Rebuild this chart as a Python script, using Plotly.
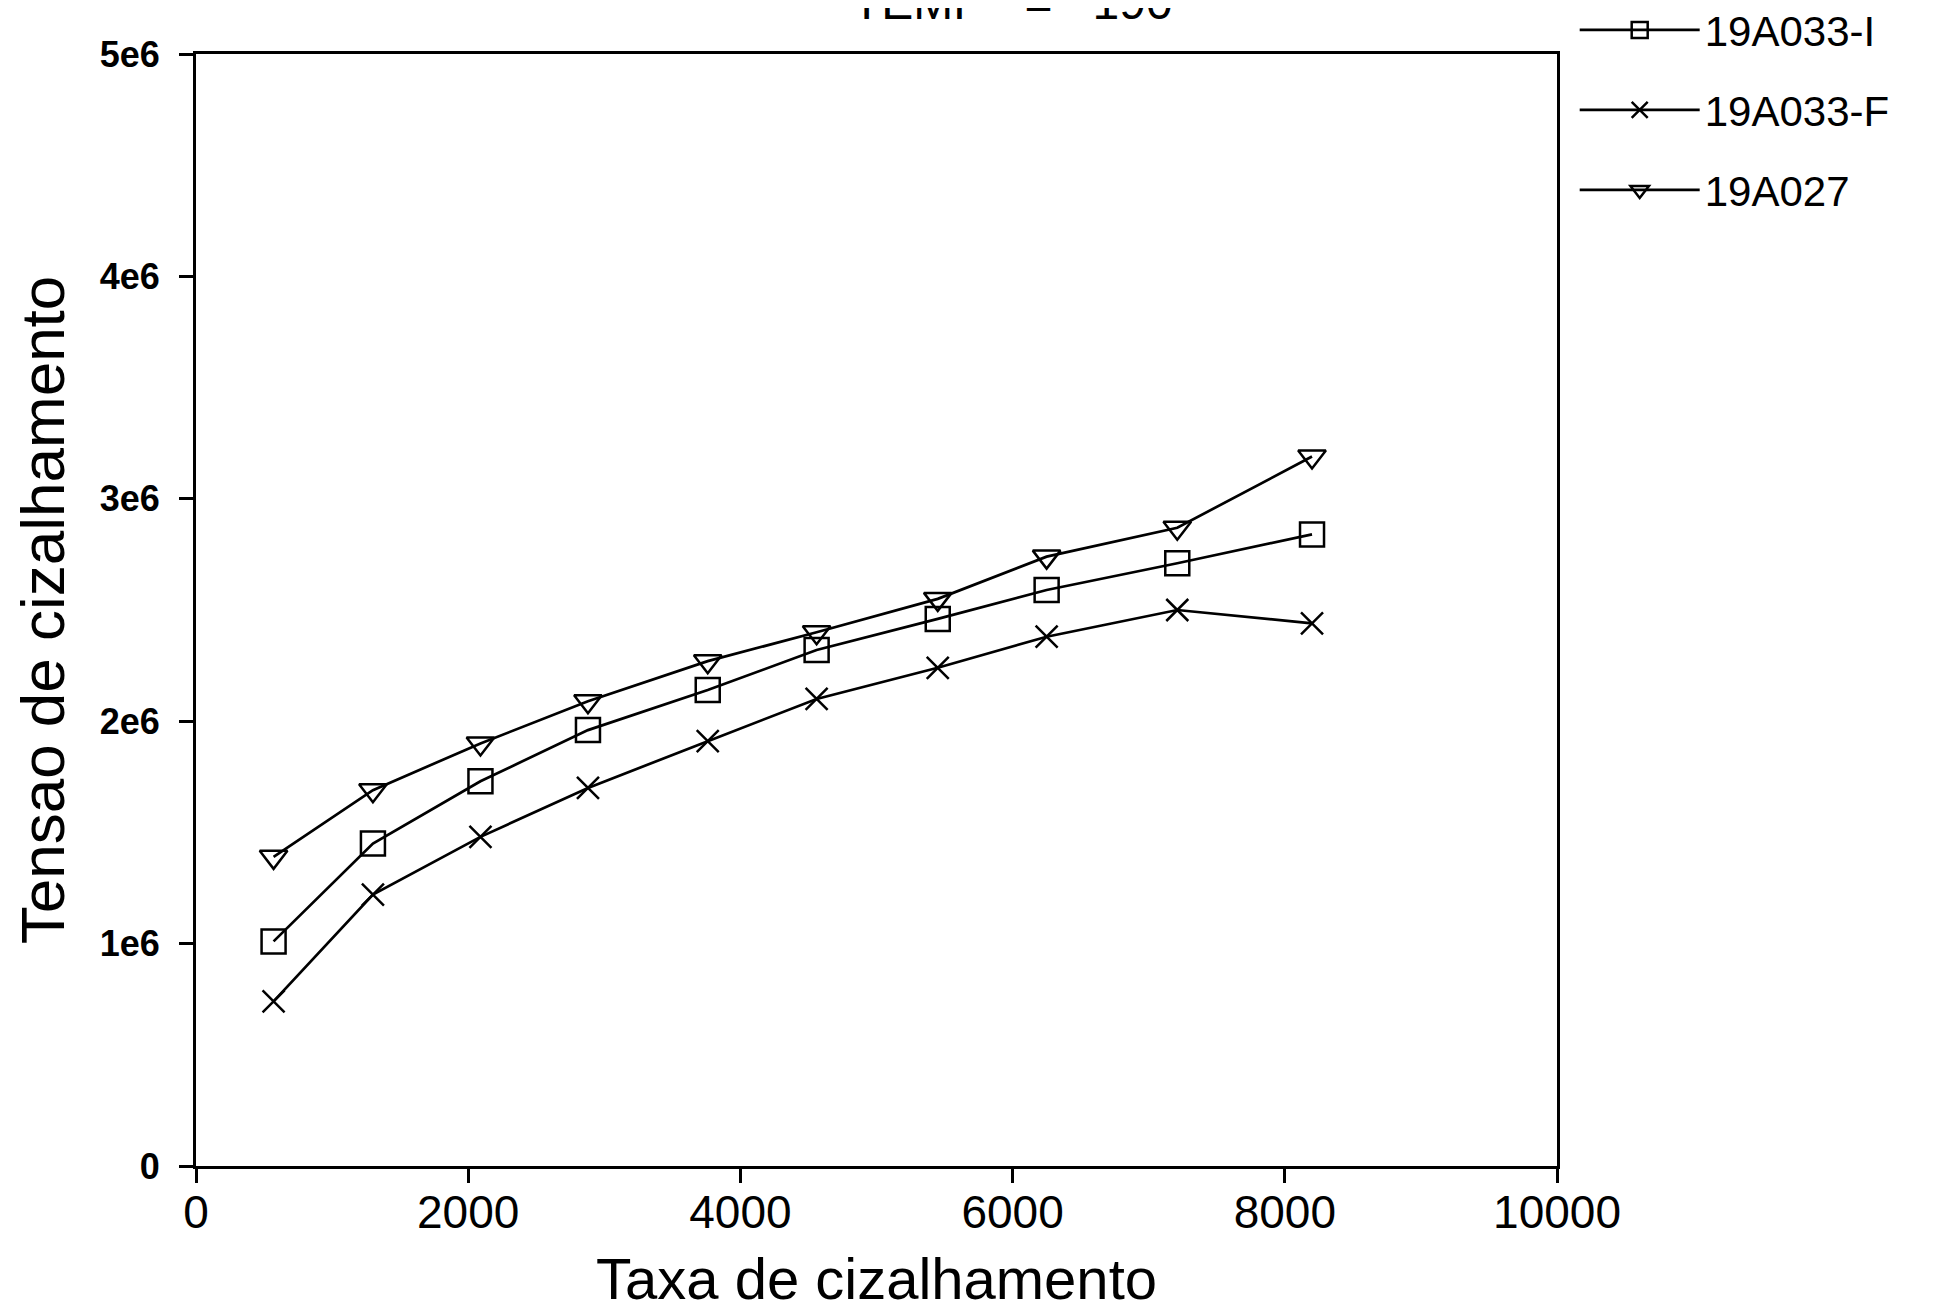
import plotly.graph_objects as go

shear_rate = [570, 1300, 2090, 2880, 3760, 4560, 5450, 6250, 7210, 8200]
s19A033_I = [1.01e6, 1.45e6, 1.73e6, 1.96e6, 2.14e6, 2.32e6, 2.46e6, 2.59e6, 2.71e6, 2.84e6]
s19A033_F = [0.74e6, 1.22e6, 1.48e6, 1.70e6, 1.91e6, 2.10e6, 2.24e6, 2.38e6, 2.50e6, 2.44e6]
s19A027 = [1.39e6, 1.69e6, 1.90e6, 2.09e6, 2.27e6, 2.40e6, 2.55e6, 2.74e6, 2.87e6, 3.19e6]

series_names = ["19A033-I", "19A033-F", "19A027"]
x_ticks = [0, 2000, 4000, 6000, 8000, 10000]
y_ticks = [0, 1e6, 2e6, 3e6, 4e6, 5e6]
y_tick_text = ["0", "1e6", "2e6", "3e6", "4e6", "5e6"]

FONT = "Liberation Sans"
fig = go.Figure()
specs = [
    (s19A033_I, "square-open", 24, "legend2"),
    (s19A033_F, "x-thin-open", 22, "legend3"),
    (s19A027, "triangle-down-open", 24, "legend4"),
]
for name, (vals, sym, sz, lg) in zip(series_names, specs):
    fig.add_trace(go.Scatter(
        x=shear_rate, y=vals, name=name, mode="lines+markers",
        line=dict(color="black", width=2.7),
        marker=dict(symbol=sym, size=sz, color="black", line=dict(color="black", width=2.5)),
        legend=lg,
    ))

legend_ys = [1.0215, 0.9495, 0.8776]
leg_common = dict(font=dict(family=FONT, size=42, color="black"), bgcolor="rgba(0,0,0,0)",
                  xanchor="left", yanchor="middle", x=1.013, itemwidth=120)
fig.update_layout(
    legend2=dict(**leg_common, y=legend_ys[0]),
    legend3=dict(**leg_common, y=legend_ys[1]),
    legend4=dict(**leg_common, y=legend_ys[2]),
)

fig.update_layout(
    width=1935, height=1314,
    margin=dict(l=188, r=386, t=46, b=156, autoexpand=False),
    paper_bgcolor="white", plot_bgcolor="white",
    font=dict(family=FONT, color="black"),
    xaxis=dict(range=[0, 10000], tickvals=x_ticks, ticktext=[str(v) for v in x_ticks],
               showgrid=False, zeroline=False, showline=True, linecolor="black", linewidth=3,
               mirror=True, ticks="outside", ticklen=14, tickwidth=2.5, tickcolor="black",
               tickfont=dict(family=FONT, size=46), ticklabelstandoff=-10, automargin=False,
               title=dict(text="Taxa de cizalhamento", font=dict(family=FONT, size=58), standoff=22)),
    yaxis=dict(range=[0, 5e6], tickvals=y_ticks, ticktext=y_tick_text,
               showgrid=False, zeroline=False, showline=True, linecolor="black", linewidth=3,
               mirror=True, ticks="outside", ticklen=14, tickwidth=2.5, tickcolor="black",
               tickfont=dict(family=FONT, size=36, weight="bold"), ticklabelstandoff=12, automargin=False,
               title=dict(text="Tensao de cizalhamento", font=dict(family=FONT, size=62), standoff=16)),
    annotations=[dict(text="TEMP   =   190", xref="paper", yref="paper", x=0.60, y=1.0,
                      yshift=52, yanchor="middle", showarrow=False,
                      font=dict(family=FONT, size=48, color="black"))],
)

fig.write_html("out.html")
